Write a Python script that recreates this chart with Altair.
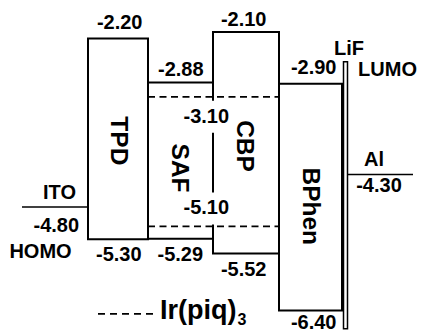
import altair as alt
import pandas as pd

# ---------------- data (energies in eV) ----------------
materials = ["TPD", "CBP", "BPhen"]
lumo = [-2.20, -2.10, -2.90]
homo = [-5.30, -5.52, -6.40]
saf_levels = [-2.88, -5.29]          # SAF LUMO / HOMO
dopant_levels = [-3.10, -5.10]       # Ir(piq)3 LUMO / HOMO
electrode_names = ["ITO", "Al"]
electrode_levels = [-4.80, -4.30]
lif_extent = [-2.56, -6.68]          # drawn extent of thin LiF layer

# ---------------- layout (diagram units) ----------------
W, H = 409, 324
Y_DOM = [-6.73, -1.73]
PX_PER_EV = H / (Y_DOM[1] - Y_DOM[0])
box_x0 = [80, 205, 271]
box_x1 = [140, 271, 334]
saf_x = [140, 205]
dopant_x = [140, 271]
electrode_x0 = [14, 340]
electrode_x1 = [80, 405]
lif_x = [335.5, 339.5]
FONT = "Liberation Sans"
FS = 20
LEG_FS = 27

xs = alt.Scale(domain=[0, W], nice=False, zero=False)
ys = alt.Scale(domain=Y_DOM, nice=False, zero=False)

def X(f):
    return alt.X(f, type="quantitative", scale=xs, axis=None)

def Y(f):
    return alt.Y(f, type="quantitative", scale=ys, axis=None)

boxes = pd.DataFrame({"m": materials, "x0": box_x0, "x1": box_x1, "top": lumo, "bot": homo})
lif = pd.DataFrame({"x0": [lif_x[0]], "x1": [lif_x[1]], "top": [lif_extent[0]], "bot": [lif_extent[1]]})

solid = pd.DataFrame({"x0": [saf_x[0]] * 2, "x1": [saf_x[1]] * 2, "e": saf_levels})
elec = pd.DataFrame({"n": electrode_names, "x0": electrode_x0, "x1": electrode_x1, "e": electrode_levels})
dashed = pd.DataFrame({"x0": [dopant_x[0]] * 2, "x1": [dopant_x[1]] * 2, "e": dopant_levels})

def off(e, dy):
    return e - dy / PX_PER_EV

def fmt(v):
    return f"{v:.2f}"

labels = pd.DataFrame([
    {"t": fmt(lumo[0]), "x": 111.7, "y": off(lumo[0], -15)},
    {"t": fmt(saf_levels[0]), "x": 172.8, "y": off(saf_levels[0], -12.5)},
    {"t": fmt(lumo[1]), "x": 235.7, "y": off(lumo[1], -12)},
    {"t": fmt(lumo[2]), "x": 305.7, "y": off(lumo[2], -15.5)},
    {"t": fmt(homo[0]), "x": 110.8, "y": off(homo[0], 15.5)},
    {"t": fmt(saf_levels[1]), "x": 172.3, "y": off(saf_levels[1], 16)},
    {"t": fmt(homo[1]), "x": 235.7, "y": off(homo[1], 16.5)},
    {"t": fmt(homo[2]), "x": 305.7, "y": off(homo[2], 12.5)},
    {"t": "Al", "x": 366, "y": off(electrode_levels[1], -14.3)},
    {"t": fmt(electrode_levels[1]), "x": 371, "y": off(electrode_levels[1], 11.5)},
    {"t": "ITO", "x": 51.5, "y": off(electrode_levels[0], -14.3)},
    {"t": fmt(electrode_levels[0]), "x": 48.3, "y": off(electrode_levels[0], 19)},
    {"t": "HOMO", "x": 32.5, "y": off(electrode_levels[0], 45)},
    {"t": "LiF", "x": 341, "y": off(lif_extent[0], -13)},
    {"t": "LUMO", "x": 379.5, "y": off(lumo[2], -13.6)},
])
bg_labels = pd.DataFrame([
    {"t": fmt(dopant_levels[0]), "x": 198.3, "y": off(dopant_levels[0], 20)},
    {"t": fmt(dopant_levels[1]), "x": 198.3, "y": off(dopant_levels[1], -18)},
])
bg_labels["bx0"] = bg_labels["x"] - 23
bg_labels["bx1"] = bg_labels["x"] + 23
bg_labels["by0"] = bg_labels["y"] - 16 / PX_PER_EV
bg_labels["by1"] = bg_labels["y"] + 16 / PX_PER_EV

names = pd.DataFrame([
    {"t": "TPD", "x": 109.5, "y": -3.78},
    {"t": "SAF", "x": 170.5, "y": -4.20},
    {"t": "CBP", "x": 236, "y": -3.86},
    {"t": "BPhen", "x": 302, "y": -4.79},
])

legend_line = pd.DataFrame({"x0": [90], "x1": [148], "e": [-6.45]})
legend_text = pd.DataFrame({"t": ["Ir(piq)"], "x": [152], "y": [-6.53]})
legend_sub = pd.DataFrame({"t": ["3"], "x": [152 + LEG_FS * 2.833 + 1], "y": [-6.62]})

box_layer = alt.Chart(boxes).mark_rect(fill="white", fillOpacity=0, stroke="black", strokeWidth=2).encode(
    x=X("x0"), x2="x1", y=Y("top"), y2="bot")
lif_layer = alt.Chart(lif).mark_rect(fill="white", fillOpacity=0, stroke="black", strokeWidth=1.5).encode(
    x=X("x0"), x2="x1", y=Y("top"), y2="bot")
solid_layer = alt.Chart(solid).mark_rule(color="black", strokeWidth=2).encode(
    x=X("x0"), x2="x1", y=Y("e"))
elec_layer = alt.Chart(elec).mark_rule(color="black", strokeWidth=1.5).encode(
    x=X("x0"), x2="x1", y=Y("e"))
dash_layer = alt.Chart(dashed).mark_rule(color="black", strokeWidth=1.8, strokeDash=[7, 4.5]).encode(
    x=X("x0"), x2="x1", y=Y("e"))
bg_layer = alt.Chart(bg_labels).mark_rect(fill="white").encode(
    x=X("bx0"), x2="bx1", y=Y("by0"), y2="by1")
txt = dict(font=FONT, fontWeight="bold", fontSize=FS, color="black", align="center", baseline="middle")
label_layer = alt.Chart(labels).mark_text(**txt).encode(x=X("x"), y=Y("y"), text="t:N")
bg_text_layer = alt.Chart(bg_labels).mark_text(**txt).encode(x=X("x"), y=Y("y"), text="t:N")
name_layer = alt.Chart(names).mark_text(font=FONT, fontWeight="bold", fontSize=24.5, color="black",
                                        align="center", baseline="middle", angle=90).encode(
    x=X("x"), y=Y("y"), text="t:N")
leg_line_layer = alt.Chart(legend_line).mark_rule(color="black", strokeWidth=1.8, strokeDash=[7, 5]).encode(
    x=X("x0"), x2="x1", y=Y("e"))
leg_text_layer = alt.Chart(legend_text).mark_text(font=FONT, fontWeight="bold", fontSize=LEG_FS, color="black",
                                                  align="left", baseline="alphabetic").encode(
    x=X("x"), y=Y("y"), text="t:N")
leg_sub_layer = alt.Chart(legend_sub).mark_text(font=FONT, fontWeight="bold", fontSize=16, color="black",
                                                align="left", baseline="alphabetic").encode(
    x=X("x"), y=Y("y"), text="t:N")

chart = alt.layer(
    box_layer, lif_layer, solid_layer, elec_layer, dash_layer, bg_layer,
    label_layer, bg_text_layer, name_layer, leg_line_layer, leg_text_layer, leg_sub_layer
).properties(width=W, height=H, padding=0, autosize="none").configure_view(stroke=None)

chart.save("out.html", embed_options={"renderer": "svg", "actions": False})
